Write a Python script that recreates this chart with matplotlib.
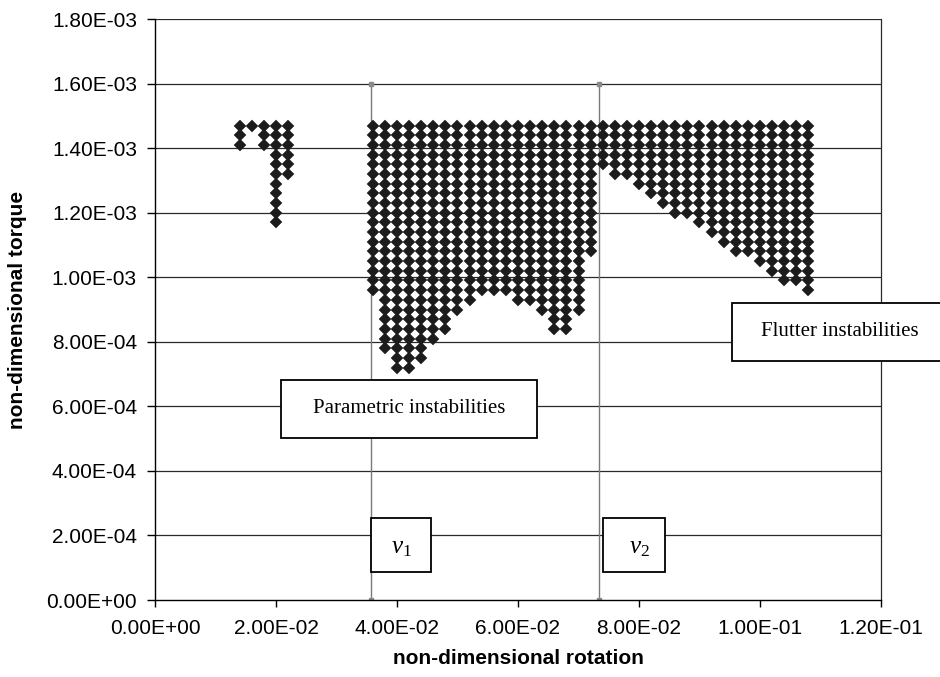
import numpy as np
import matplotlib
matplotlib.use('Agg')
import matplotlib.pyplot as plt
from matplotlib.patches import Rectangle
from matplotlib.ticker import FixedLocator, FixedFormatter

# ---------------- data ----------------
# grid rows of torque values
y_rows = [0.72e-3, 0.75e-3, 0.78e-3, 0.81e-3, 0.84e-3, 0.87e-3, 0.90e-3, 0.93e-3,
          0.96e-3, 0.99e-3, 1.02e-3, 1.05e-3, 1.08e-3, 1.11e-3, 1.14e-3, 1.17e-3,
          1.20e-3, 1.23e-3, 1.26e-3, 1.29e-3, 1.32e-3, 1.35e-3, 1.38e-3, 1.41e-3,
          1.44e-3, 1.47e-3]

# left small cluster: column rotation, lowest and highest unstable torque
left_x = [0.014, 0.016, 0.018, 0.020, 0.022]
left_bottom = [1.41e-3, 1.47e-3, 1.41e-3, 1.17e-3, 1.32e-3]
left_top = [1.47e-3, 1.47e-3, 1.47e-3, 1.47e-3, 1.47e-3]

# main cluster
main_x = [0.036, 0.038, 0.040, 0.042, 0.044, 0.046, 0.048, 0.050, 0.052, 0.054,
          0.056, 0.058, 0.060, 0.062, 0.064, 0.066, 0.068, 0.070, 0.072, 0.074,
          0.076, 0.078, 0.080, 0.082, 0.084, 0.086, 0.088, 0.090, 0.092, 0.094,
          0.096, 0.098, 0.100, 0.102, 0.104, 0.106, 0.108]
main_bottom = [0.96e-3, 0.78e-3, 0.72e-3, 0.72e-3, 0.75e-3, 0.81e-3, 0.84e-3, 0.90e-3,
               0.93e-3, 0.96e-3, 0.96e-3, 0.96e-3, 0.93e-3, 0.93e-3, 0.90e-3, 0.84e-3,
               0.84e-3, 0.90e-3, 1.08e-3, 1.35e-3, 1.32e-3, 1.32e-3, 1.29e-3, 1.26e-3,
               1.23e-3, 1.20e-3, 1.20e-3, 1.17e-3, 1.14e-3, 1.11e-3, 1.08e-3, 1.08e-3,
               1.05e-3, 1.02e-3, 0.99e-3, 0.99e-3, 0.96e-3]
main_top = [1.47e-3] * len(main_x)

# critical rotation lines v1, v2
v_x = [0.0357, 0.0734]
v_top = 1.6e-3
v_names = [r'$v_1$', r'$v_2$']

x_ticks = [0.0, 0.02, 0.04, 0.06, 0.08, 0.10, 0.12]
x_tick_labels = ['0.00E+00', '2.00E-02', '4.00E-02', '6.00E-02', '8.00E-02',
                 '1.00E-01', '1.20E-01']
y_ticks = [0.0, 0.2e-3, 0.4e-3, 0.6e-3, 0.8e-3, 1.0e-3, 1.2e-3, 1.4e-3, 1.6e-3, 1.8e-3]
y_tick_labels = ['0.00E+00', '2.00E-04', '4.00E-04', '6.00E-04', '8.00E-04',
                 '1.00E-03', '1.20E-03', '1.40E-03', '1.60E-03', '1.80E-03']

# ---------------- build points ----------------
px, py = [], []
for xs, bs, ts in ((left_x, left_bottom, left_top), (main_x, main_bottom, main_top)):
    for x, b, t in zip(xs, bs, ts):
        for y in y_rows:
            if b - 1e-9 <= y <= t + 1e-9:
                px.append(x)
                py.append(y)

# ---------------- plot ----------------
plt.rcParams['font.family'] = ['Liberation Sans', 'DejaVu Sans']
plt.rcParams['mathtext.fontset'] = 'custom'
plt.rcParams['mathtext.rm'] = 'Liberation Serif'
plt.rcParams['mathtext.it'] = 'Liberation Serif:italic'

fig = plt.figure(figsize=(9.4, 6.77), dpi=100)
ax = fig.add_axes([155 / 940, 77 / 677, 726 / 940, 581 / 677])

ax.set_xlim(0, 0.12)
ax.set_ylim(0, 1.8e-3)

grid_col = '#2a2a2a'
for y in y_ticks[1:]:
    ax.axhline(y, color=grid_col, lw=0.9, zorder=1)

# vertical critical lines
for x in v_x:
    ax.plot([x, x], [0, v_top], color='#7a7a7a', lw=1.0, zorder=2,
            marker='s', ms=2.5, mec='#8a8a8a', mfc='#8a8a8a')

ax.plot(px, py, linestyle='none', marker='D', ms=6.6, color='#1c1c1c',
        mec='#1c1c1c', mew=0.3, zorder=3)

ax.spines['top'].set_visible(False)
ax.spines['right'].set_color(grid_col)
ax.spines['right'].set_linewidth(0.9)
ax.spines['left'].set_linewidth(1.0)
ax.spines['bottom'].set_linewidth(1.0)
ax.spines['left'].set_color('black')
ax.spines['bottom'].set_color('black')

ax.xaxis.set_major_locator(FixedLocator(x_ticks))
ax.xaxis.set_major_formatter(FixedFormatter(x_tick_labels))
ax.yaxis.set_major_locator(FixedLocator(y_ticks))
ax.yaxis.set_major_formatter(FixedFormatter(y_tick_labels))
ax.tick_params(axis='x', direction='out', length=5, width=1.0, pad=9,
               labelsize=15, colors='black')
ax.tick_params(axis='y', direction='out', length=6, width=1.0, pad=7,
               labelsize=15, colors='black')
ax.tick_params(right=False, top=False)

fig.text(18 / 940, 1 - 310 / 677, 'non-dimensional torque', rotation=90,
         ha='center', va='center', fontsize=15, fontweight='bold')
fig.text(518 / 940, 1 - 659 / 677, 'non-dimensional rotation',
         ha='center', va='center', fontsize=15, fontweight='bold')

serif = ['Liberation Serif', 'DejaVu Serif']


def box(x0, x1, y0, y1, text, tx, ty, size=15):
    r = Rectangle((x0, y0), x1 - x0, y1 - y0, transform=ax.transData,
                  facecolor='white', edgecolor='black', lw=1.3, zorder=5,
                  clip_on=False)
    ax.add_patch(r)
    ax.text(tx, ty, text, ha='center', va='center', fontsize=size,
            family=serif, zorder=6, clip_on=False)


box(0.02078, 0.06319, 5.01e-4, 6.816e-4, 'Parametric instabilities', 0.04199, 5.92e-4)
box(0.09542, 0.136, 7.404e-4, 9.21e-4, 'Flutter instabilities', 0.1132, 8.32e-4)
box(0.03565, 0.04567, 0.877e-4, 2.55e-4, v_names[0], 0.0408, 1.62e-4, size=18)
box(0.0740, 0.08435, 0.877e-4, 2.55e-4, v_names[1], 0.0800, 1.62e-4, size=18)

fig.savefig('out.png', dpi=100)
